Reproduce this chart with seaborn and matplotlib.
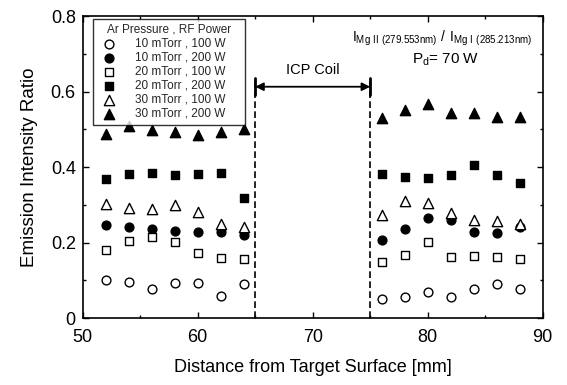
import matplotlib
matplotlib.use("Agg")
import matplotlib.pyplot as plt
import seaborn as sns
import pandas as pd
import numpy as np
from matplotlib.ticker import MultipleLocator, FuncFormatter

sns.set_theme(style="ticks")
plt.rcParams['font.family'] = ['Liberation Sans', 'DejaVu Sans']

x_left = [52, 54, 56, 58, 60, 62, 64]
x_right = [76, 78, 80, 82, 84, 86, 88]
distance = x_left + x_right

s10_100 = [0.101, 0.095, 0.077, 0.093, 0.093, 0.059, 0.090,
           0.051, 0.057, 0.068, 0.055, 0.077, 0.090, 0.077]
s10_200 = [0.246, 0.241, 0.236, 0.230, 0.229, 0.228, 0.219,
           0.208, 0.236, 0.264, 0.259, 0.228, 0.226, 0.242]
s20_100 = [0.179, 0.204, 0.214, 0.202, 0.171, 0.159, 0.157,
           0.148, 0.168, 0.201, 0.162, 0.164, 0.162, 0.157]
s20_200 = [0.368, 0.383, 0.384, 0.380, 0.383, 0.384, 0.319,
           0.383, 0.374, 0.372, 0.379, 0.405, 0.380, 0.357]
s30_100 = [0.303, 0.292, 0.290, 0.300, 0.281, 0.248, 0.240,
           0.273, 0.311, 0.306, 0.277, 0.259, 0.257, 0.249]
s30_200 = [0.488, 0.510, 0.497, 0.494, 0.484, 0.492, 0.500,
           0.530, 0.552, 0.568, 0.543, 0.543, 0.533, 0.533]

labels = ["10 mTorr , 100 W", "10 mTorr , 200 W", "20 mTorr , 100 W",
          "20 mTorr , 200 W", "30 mTorr , 100 W", "30 mTorr , 200 W"]
series = [s10_100, s10_200, s20_100, s20_200, s30_100, s30_200]

df = pd.DataFrame({
    "Distance": distance * len(series),
    "Ratio": sum(series, []),
    "Condition": sum([[lab] * len(distance) for lab in labels], []),
})

styles = [("o", "white", 40), ("o", "black", 40), ("s", "white", 40),
          ("s", "black", 40), ("^", "white", 55), ("^", "black", 55)]

fig = plt.figure(figsize=(5.67, 3.85), dpi=100)
ax = fig.add_axes([0.146, 0.174, 0.811, 0.784])

for lab, (mk, fc, sz) in zip(labels, styles):
    sub = df[df["Condition"] == lab]
    sns.scatterplot(data=sub, x="Distance", y="Ratio", marker=mk, s=sz,
                    facecolor=fc, edgecolor="black", linewidth=1.0,
                    label=lab, ax=ax, zorder=3)

ax.set_xlim(50, 90)
ax.set_ylim(0, 0.8)
ax.xaxis.set_major_locator(MultipleLocator(10))
ax.xaxis.set_minor_locator(MultipleLocator(5))
ax.yaxis.set_major_locator(MultipleLocator(0.2))
ax.yaxis.set_minor_locator(MultipleLocator(0.1))
ax.yaxis.set_major_formatter(FuncFormatter(lambda v, p: "0" if abs(v) < 1e-9 else f"{v:.1f}"))
ax.tick_params(which="both", direction="in", top=True, right=True, colors="black",
               labelsize=13)
ax.tick_params(which="major", length=4, width=1)
ax.tick_params(which="minor", length=2.5, width=1)
ax.tick_params(axis="x", which="major", pad=8)
ax.tick_params(axis="y", which="major", pad=5)
for sp in ax.spines.values():
    sp.set_color("black")
    sp.set_linewidth(1.2)

ax.set_xlabel("Distance from Target Surface [mm]", fontsize=13, color="black", labelpad=9)
ax.set_ylabel("Emission Intensity Ratio", fontsize=13.5, color="black", labelpad=9)

# ICP coil region
ax.vlines([65, 75], 0, 0.625, colors="black", linestyles=(0, (4, 2)), linewidth=1.2)
ax.annotate("", xy=(65, 0.613), xytext=(75, 0.613),
            arrowprops=dict(arrowstyle="<|-|>", color="black", lw=1.3,
                            shrinkA=0, shrinkB=0, mutation_scale=12))
ax.plot([65, 65], [0.59, 0.635], color="black", lw=2)
ax.plot([75, 75], [0.59, 0.635], color="black", lw=2)
ax.text(70, 0.658, "ICP Coil", ha="center", va="center", fontsize=10.5, color="black")

ax.text(81.3, 0.742, r"$\mathregular{I_{Mg\ II\ (279.553nm)}\ /\ I_{Mg\ I\ (285.213nm)}}$",
        ha="center", va="center", fontsize=10, color="black")
ax.text(81.6, 0.684, r"$\mathregular{P_d}$= 70 W", ha="center", va="center",
        fontsize=11, color="black")

leg = ax.legend(title="Ar Pressure , RF Power", loc="upper left",
                bbox_to_anchor=(0.022, 0.0, 0.33, 0.99), mode="expand",
                fontsize=8.5, title_fontsize=8.5, frameon=True, fancybox=False,
                edgecolor="black", borderaxespad=0.0, handletextpad=1.2,
                labelspacing=0.17, borderpad=0.4, markerscale=1.0)
leg.get_frame().set_linewidth(1.0)

fig.savefig("out.png", dpi=100)
